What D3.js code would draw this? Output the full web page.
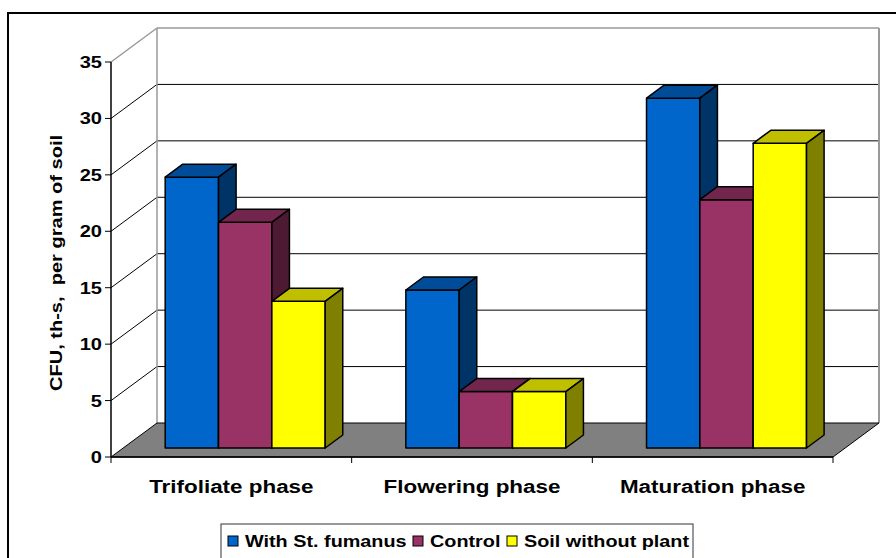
<!DOCTYPE html>
<html>
<head>
<meta charset="utf-8">
<script src="https://cdn.jsdelivr.net/npm/d3@7"></script>
<style>
  html, body { margin: 0; padding: 0; background: #fff; }
  svg { display: block; }
  text { font-family: "Liberation Sans", Arial, sans-serif; font-weight: bold; fill: #000; white-space: pre; }
</style>
</head>
<body>
<svg id="chart" width="896" height="558"></svg>
<script>
// Colony-forming units per gram of soil, by growth phase
const categories = ["Trifoliate phase", "Flowering phase", "Maturation phase"];
const seriesNames = ["With St. fumanus", "Control", "Soil without plant"];
const withFumanus = [24, 14, 31];
const control = [20, 5, 22];
const soilWithoutPlant = [13, 5, 27];
const yTicks = [0, 5, 10, 15, 20, 25, 30, 35];
const axisTitle = "CFU, th-s,  per gram of soil";

const series = [withFumanus, control, soilWithoutPlant];

// face colours per series: front, top, side
const palette = [
  { front: "#0066CC", top: "#004C99", side: "#003366" },
  { front: "#993366", top: "#73264D", side: "#4D1A33" },
  { front: "#FFFF00", top: "#BFBF00", side: "#808000" }
];

const svg = d3.select("#chart");
const TEXT_K = 1.18;           // horizontal widening of glyphs

// front plane of the plot, plus the oblique depth offset
const X0 = 111, X1 = 833, Y0 = 457, YT = 62;
const DX = 46, DY = 34;
const Z0 = 0.265, Z1 = 0.647;  // bar front / back depth (fraction of floor depth)

const y = d3.scaleLinear().domain([0, 35]).range([Y0, YT]);
const x = d3.scaleBand().domain(categories).range([X0, X1]).padding(0);
const inner = d3.scaleBand().domain(d3.range(series.length))
  .range([42, 42 + 160]).padding(0);

const P = (px, v, z) => [px + z * DX, y(v) - z * DY];
const pts = arr => arr.map(p => p.join(",")).join(" ");

// outer frame
svg.append("rect").attr("x", 8).attr("y", 13).attr("width", 900).attr("height", 560)
  .attr("fill", "none").attr("stroke", "#000").attr("stroke-width", 2);

// back wall
const wall = svg.append("g");
wall.append("rect").attr("x", X0 + DX).attr("y", y(35) - DY)
  .attr("width", X1 - X0).attr("height", y(0) - y(35))
  .attr("fill", "#fff");

// gridlines: back wall + left side wall
yTicks.filter(v => v > 0).forEach(v => {
  const col = v === 35 ? "#999" : "#000";
  const sw = v === 35 ? 1.5 : 1;
  wall.append("line")
    .attr("x1", X0 + DX).attr("x2", X1 + DX)
    .attr("y1", y(v) - DY).attr("y2", y(v) - DY)
    .attr("stroke", col).attr("stroke-width", sw);
  wall.append("line")
    .attr("x1", X0).attr("y1", y(v))
    .attr("x2", X0 + DX).attr("y2", y(v) - DY)
    .attr("stroke", col).attr("stroke-width", sw);
});
// wall edges
wall.append("line").attr("x1", X0 + DX).attr("x2", X0 + DX)
  .attr("y1", y(35) - DY).attr("y2", y(0) - DY)
  .attr("stroke", "#999").attr("stroke-width", 1.5);
wall.append("line").attr("x1", X1 + DX).attr("x2", X1 + DX)
  .attr("y1", y(35) - DY).attr("y2", y(0) - DY)
  .attr("stroke", "#999").attr("stroke-width", 2);

// floor
svg.append("polygon")
  .attr("points", pts([P(X0, 0, 0), P(X1, 0, 0), P(X1, 0, 1), P(X0, 0, 1)]))
  .attr("fill", "#808080").attr("stroke", "#000").attr("stroke-width", 1);

// bars, drawn left to right so each front face overlaps the neighbour's side
categories.forEach((cat, ci) => {
  series.forEach((vals, si) => {
    const v = vals[ci];
    const xl = x(cat) + inner(si);
    const xr = xl + inner.bandwidth();
    const c = palette[si];
    const g = svg.append("g").attr("stroke", "#000").attr("stroke-width", 1.5)
      .attr("stroke-linejoin", "round");
    g.append("polygon").attr("fill", c.front)
      .attr("points", pts([P(xl, 0, Z0), P(xr, 0, Z0), P(xr, v, Z0), P(xl, v, Z0)]));
    g.append("polygon").attr("fill", c.top)
      .attr("points", pts([P(xl, v, Z0), P(xr, v, Z0), P(xr, v, Z1), P(xl, v, Z1)]));
    g.append("polygon").attr("fill", c.side)
      .attr("points", pts([P(xr, 0, Z0), P(xr, 0, Z1), P(xr, v, Z1), P(xr, v, Z0)]));
  });
});

// value axis
const axis = svg.append("g");
axis.append("line").attr("x1", X0).attr("x2", X0).attr("y1", y(35)).attr("y2", y(0))
  .attr("stroke", "#000").attr("stroke-width", 1.5);
yTicks.forEach(v => {
  axis.append("line").attr("x1", X0 - 6).attr("x2", X0).attr("y1", y(v)).attr("y2", y(v))
    .attr("stroke", "#000").attr("stroke-width", 1);
  axis.append("text")
    .attr("transform", `translate(${X0 - 9},${y(v) + 6}) scale(${TEXT_K},1)`)
    .attr("text-anchor", "end").attr("font-size", 17).text(v);
});

// category axis
svg.append("line").attr("x1", X0).attr("x2", X1).attr("y1", Y0).attr("y2", Y0)
  .attr("stroke", "#000").attr("stroke-width", 1.5);
categories.concat([null]).forEach(cat => {
  const px = cat ? x(cat) : X1;
  svg.append("line").attr("x1", px).attr("x2", px).attr("y1", Y0).attr("y2", Y0 + 6)
    .attr("stroke", "#000").attr("stroke-width", 1);
});
categories.forEach(cat => {
  svg.append("text")
    .attr("transform", `translate(${x(cat) + x.bandwidth() / 2},${493}) scale(${TEXT_K},1)`)
    .attr("text-anchor", "middle").attr("font-size", 19).text(cat);
});

// axis title
svg.append("text")
  .attr("transform", `translate(62,263) rotate(-90) scale(${TEXT_K},1)`)
  .attr("text-anchor", "middle").attr("font-size", 17).text(axisTitle);

// legend
const lg = svg.append("g");
lg.append("rect").attr("x", 221).attr("y", 524).attr("width", 472).attr("height", 40)
  .attr("fill", "#fff").attr("stroke", "#333").attr("stroke-width", 1);
const legendX = [228, 413, 507];
seriesNames.forEach((name, i) => {
  lg.append("rect").attr("x", legendX[i]).attr("y", 536).attr("width", 10).attr("height", 10)
    .attr("fill", palette[i].front).attr("stroke", "#000").attr("stroke-width", 1);
  lg.append("text")
    .attr("transform", `translate(${legendX[i] + 17},${547}) scale(${TEXT_K},1)`)
    .attr("font-size", 16.8).text(name);
});
</script>
</body>
</html>
